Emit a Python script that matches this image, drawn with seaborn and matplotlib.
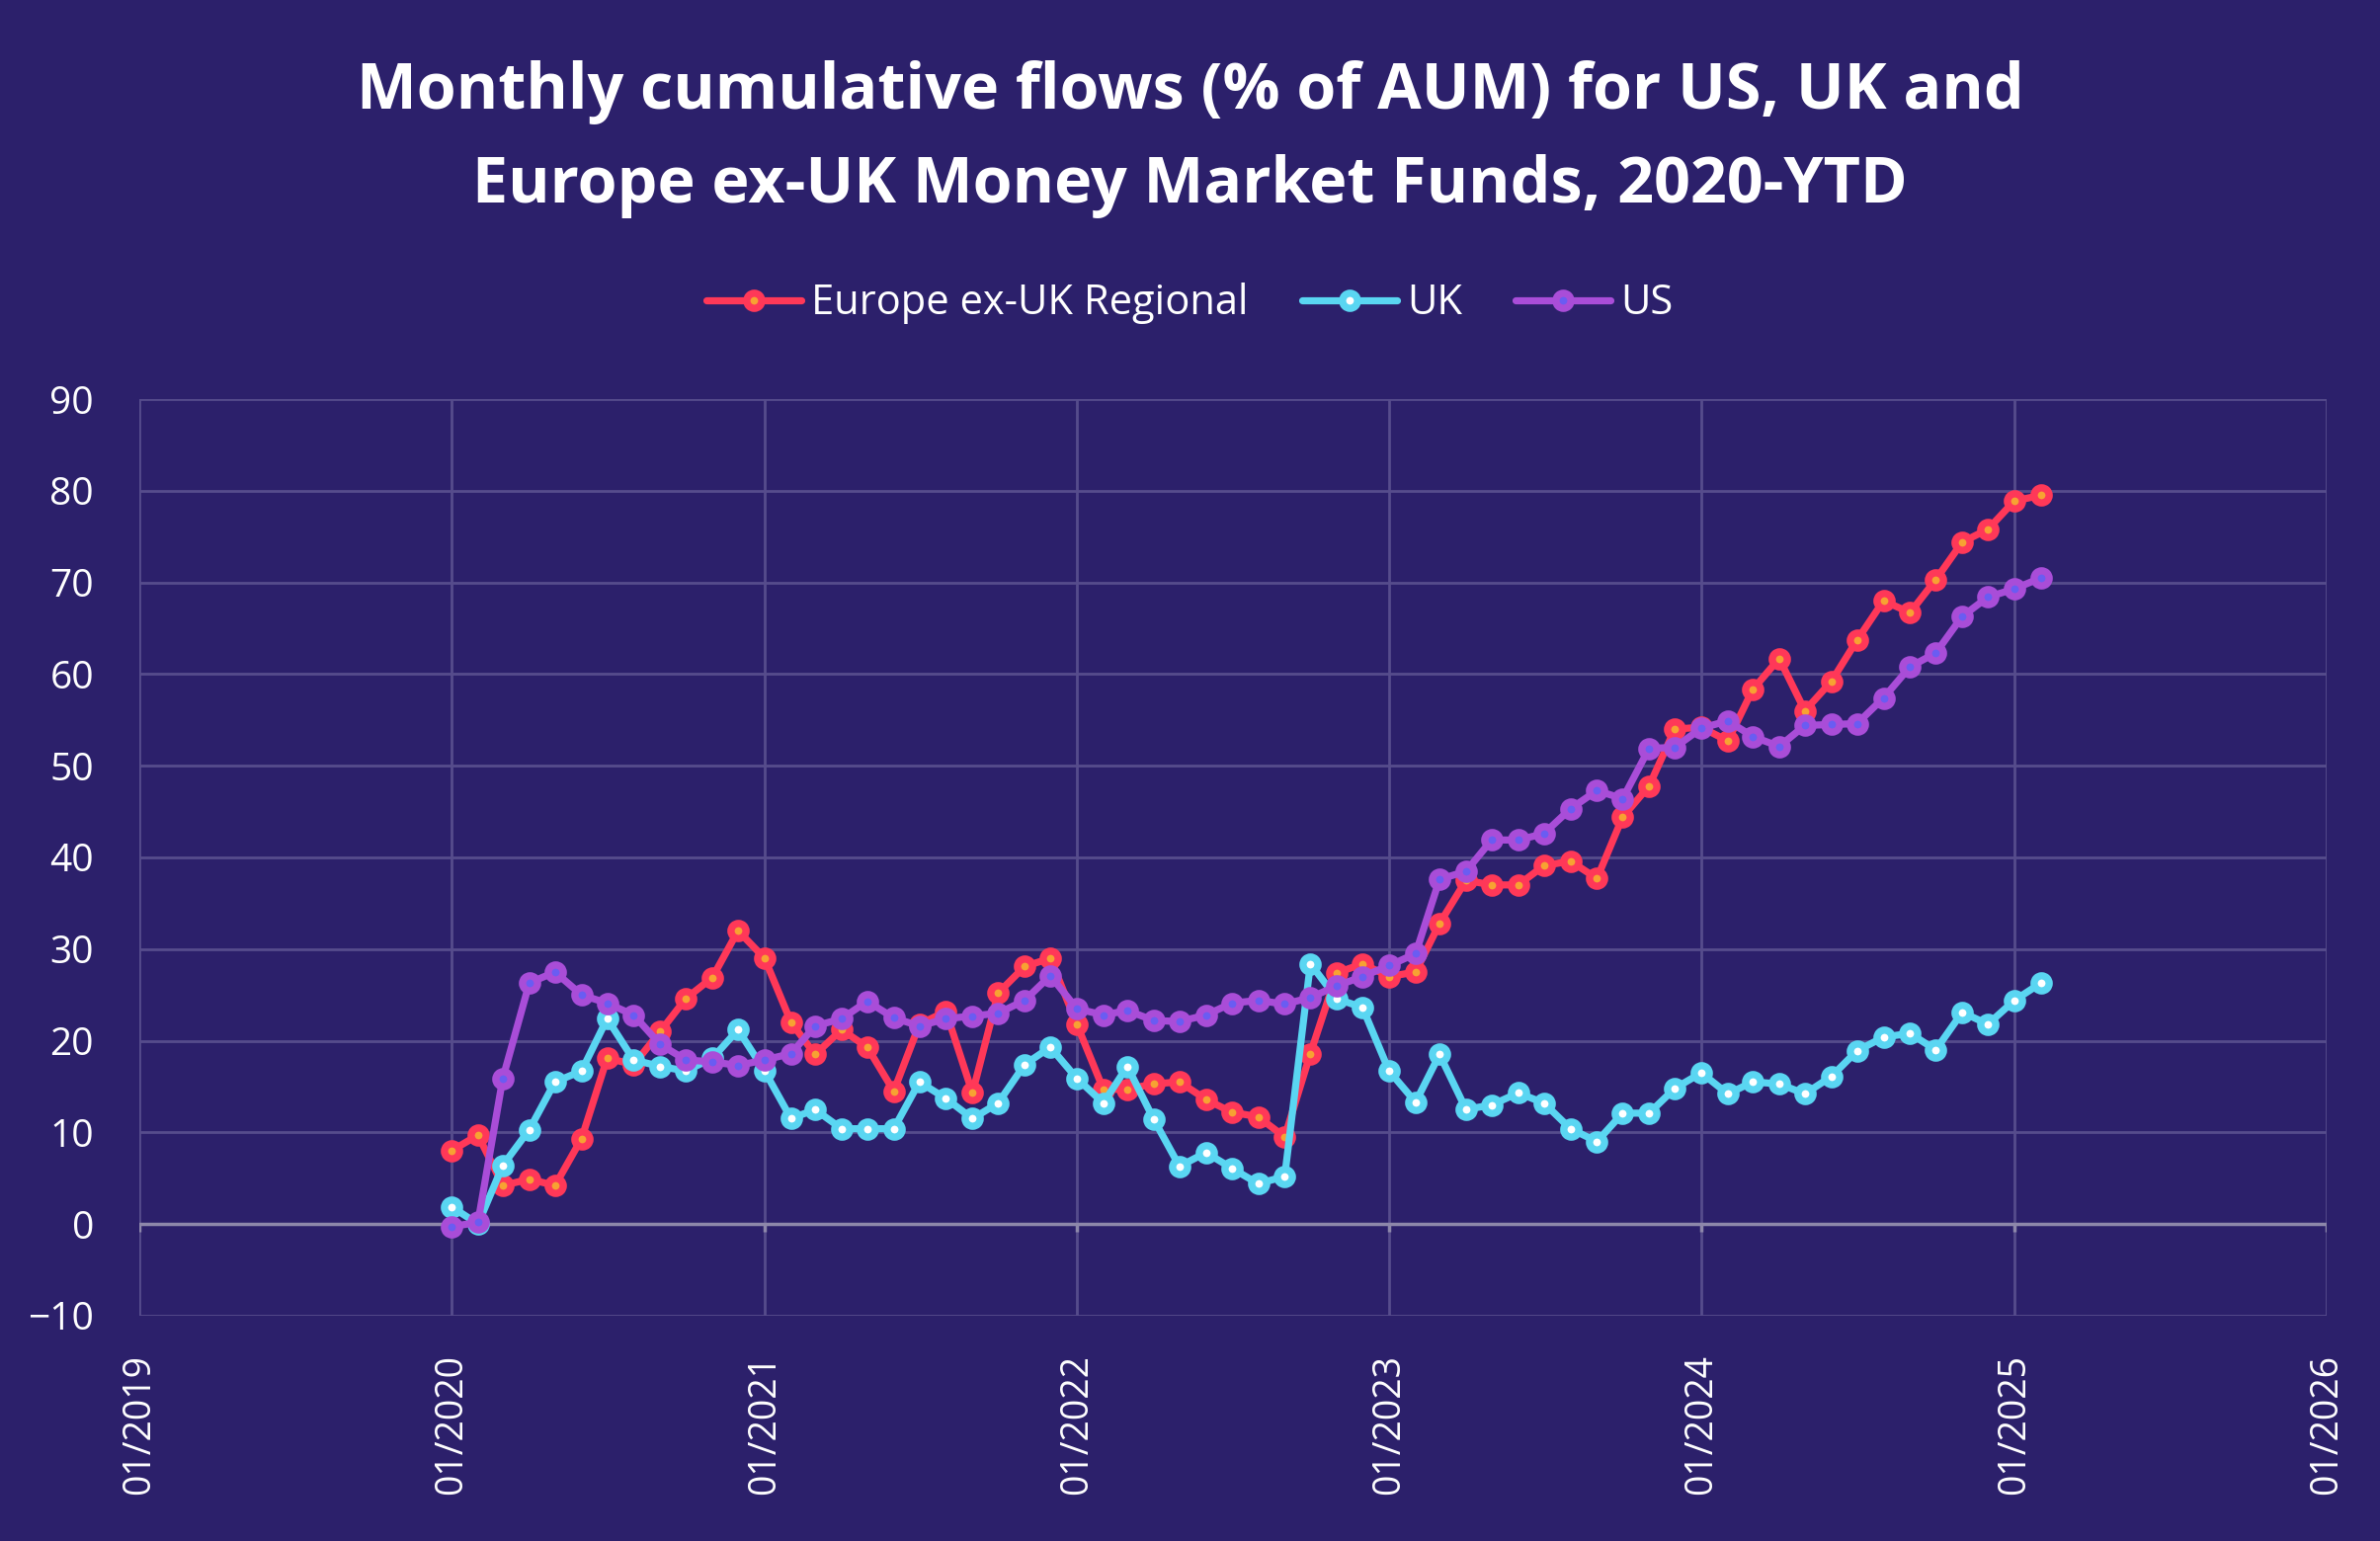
import numpy as np
import pandas as pd
import matplotlib
matplotlib.use("Agg")
import matplotlib.pyplot as plt
import matplotlib.dates as mdates
import seaborn as sns

# data (monthly, Jan 2020 - Feb 2025)
europe = [8.0, 9.7, 4.2, 4.9, 4.2, 9.3, 18.1, 17.4, 21.0, 24.6, 26.9, 32.0,
          29.0, 22.0, 18.5, 21.2, 19.3, 14.5, 21.8, 23.2, 14.3, 25.2, 28.1, 29.0,
          21.8, 14.7, 14.7, 15.3, 15.5, 13.6, 12.2, 11.7, 9.5, 18.6, 27.4, 28.4,
          27.0, 27.5, 32.8, 37.5, 37.0, 37.0, 39.1, 39.6, 37.7, 44.4, 47.8, 54.0,
          54.2, 52.7, 58.3, 61.7, 56.0, 59.2, 63.7, 68.0, 66.7, 70.3, 74.4, 75.8,
          78.9, 79.5]
uk = [1.9, 0.0, 6.4, 10.3, 15.5, 16.7, 22.4, 17.9, 17.2, 16.7, 18.1, 21.2,
      16.7, 11.5, 12.5, 10.4, 10.4, 10.4, 15.5, 13.7, 11.5, 13.2, 17.4, 19.3,
      15.9, 13.2, 17.2, 11.4, 6.3, 7.8, 6.1, 4.4, 5.2, 28.4, 24.6, 23.6,
      16.7, 13.3, 18.5, 12.5, 13.0, 14.3, 13.2, 10.4, 9.0, 12.1, 12.1, 14.8,
      16.5, 14.2, 15.5, 15.3, 14.2, 16.1, 18.9, 20.4, 20.8, 19.0, 23.1, 21.8,
      24.4, 26.3]
us = [-0.3, 0.2, 15.9, 26.3, 27.5, 25.0, 24.1, 22.8, 19.6, 17.9, 17.7, 17.3,
      17.9, 18.6, 21.6, 22.4, 24.3, 22.5, 21.6, 22.4, 22.7, 23.0, 24.4, 27.1,
      23.5, 22.8, 23.3, 22.2, 22.1, 22.8, 24.1, 24.4, 24.0, 24.7, 26.0, 27.0,
      28.2, 29.5, 37.6, 38.5, 41.9, 41.9, 42.6, 45.3, 47.3, 46.4, 51.9, 52.0,
      54.1, 54.9, 53.2, 52.1, 54.4, 54.5, 54.6, 57.4, 60.8, 62.3, 66.3, 68.4,
      69.3, 70.5]
dates = pd.date_range("2020-01-01", periods=len(europe), freq="MS")

series_names = ["Europe ex-UK Regional", "UK", "US"]
series_values = [europe, uk, us]
line_colors = ["#ff3858", "#5ad6f2", "#a94dd8"]
inner_colors = ["#f7a232", "#ffffff", "#6a5cf2"]

bg = "#2c206b"
grid_col = "#564c8c"

sns.set_theme(style="dark")
plt.rcParams["font.family"] = ["Open Sans", "DejaVu Sans"]

fig, ax = plt.subplots(figsize=(24.09, 15.60), dpi=100)
fig.patch.set_facecolor(bg)
ax.set_facecolor(bg)
fig.subplots_adjust(left=0.0585, right=0.9776, top=0.741, bottom=0.1462)

for name, vals, c, ic in zip(series_names, series_values, line_colors, inner_colors):
    sns.lineplot(x=dates, y=vals, ax=ax, color=c, linewidth=5.2, marker="o",
                 markersize=11, markerfacecolor=ic, markeredgecolor=c,
                 markeredgewidth=5.3, label=name, zorder=3)

ax.set_xlim(pd.Timestamp("2019-01-01"), pd.Timestamp("2026-01-01"))
ax.set_ylim(-10, 90)
ax.set_yticks(np.arange(-10, 91, 10))
years = [pd.Timestamp(f"{y}-01-01") for y in range(2019, 2027)]
ax.set_xticks(years)
ax.xaxis.set_major_formatter(mdates.DateFormatter("%m/%Y"))

ax.grid(True, color=grid_col, linewidth=2)
for s in ax.spines.values():
    s.set_visible(False)
ax.axhline(0, color="#8d87aa", linewidth=2.5, zorder=2)
ax.vlines(years, -0.9, 0, color="#8d87aa", linewidth=2.5, zorder=2)

ax.tick_params(axis="y", length=0, pad=33, labelsize=28, labelcolor="white")
ax.tick_params(axis="x", length=0, pad=28, labelsize=27, labelcolor="white",
               labelrotation=90)
ax.set_xlabel("")
ax.set_ylabel("")

fig.text(0.5, 0.940, "Monthly cumulative flows (% of AUM) for US, UK and",
         ha="center", va="center", fontsize=46.5, fontweight="bold", color="white")
fig.text(0.5, 0.879, "Europe ex-UK Money Market Funds, 2020-YTD",
         ha="center", va="center", fontsize=46.5, fontweight="bold", color="white")

leg = ax.legend(loc="center", bbox_to_anchor=(0.5, 0.803),
                bbox_transform=fig.transFigure, ncol=3, frameon=False,
                fontsize=30, handlelength=2.3, handletextpad=0.25,
                columnspacing=1.3)
for t in leg.get_texts():
    t.set_color("white")

fig.savefig("out.png", dpi=100, facecolor=bg)
